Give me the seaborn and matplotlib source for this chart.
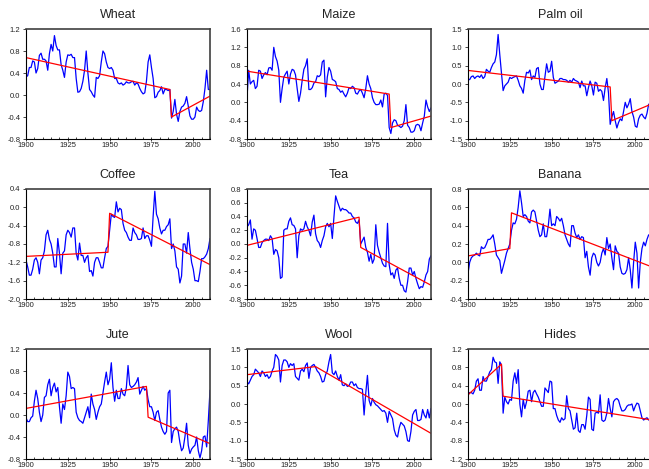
import numpy as np
import matplotlib
matplotlib.use("Agg")
import matplotlib.pyplot as plt
import seaborn as sns
from matplotlib.ticker import MultipleLocator, FormatStrFormatter

years = np.arange(1900, 2011)

wheat = [0.33, 0.35, 0.50, 0.50, 0.62, 0.60, 0.40, 0.48, 0.72, 0.76,
         0.65, 0.65, 0.62, 0.45, 0.75, 0.92, 0.80, 1.08, 0.90, 0.82,
         0.82, 0.55, 0.45, 0.32, 0.60, 0.73, 0.72, 0.74, 0.68, 0.68,
         0.30, 0.05, 0.06, 0.12, 0.25, 0.45, 0.80, 0.40, 0.10, 0.06,
         0.00, -0.04, 0.32, 0.30, 0.35, 0.60, 0.80, 0.75, 0.60, 0.50,
         0.48, 0.50, 0.45, 0.30, 0.30, 0.22, 0.20, 0.22, 0.18, 0.20,
         0.24, 0.22, 0.22, 0.24, 0.25, 0.18, 0.22, 0.20, 0.12, 0.06,
         0.02, 0.04, 0.25, 0.60, 0.73, 0.50, 0.30, -0.05, -0.03, 0.05,
         0.08, 0.15, 0.02, 0.10, 0.10, 0.08, 0.10, -0.42, -0.30, -0.08,
         -0.35, -0.48, -0.30, -0.22, -0.20, -0.15, -0.03, -0.20, -0.38, -0.44,
         -0.44, -0.40, -0.22, -0.28, -0.30, -0.28, -0.12, 0.12, 0.45, 0.10,
         0.10]
maize = [0.10, 0.70, 0.40, 0.45, 0.48, 0.30, 0.35, 0.70, 0.68, 0.52,
         0.60, 0.65, 0.60, 0.75, 0.76, 0.70, 1.20, 1.00, 0.90, 0.70,
         0.00, 0.30, 0.55, 0.62, 0.68, 0.40, 0.62, 0.72, 0.70, 0.60,
         0.30, 0.02, 0.20, 0.48, 0.72, 0.80, 0.95, 0.28, 0.28, 0.32,
         0.42, 0.45, 0.58, 0.56, 0.60, 0.88, 0.92, 0.12, 0.55, 0.76,
         0.68, 0.50, 0.48, 0.45, 0.30, 0.28, 0.22, 0.25, 0.18, 0.12,
         0.20, 0.32, 0.30, 0.35, 0.32, 0.20, 0.18, 0.25, 0.28, 0.20,
         0.10, 0.30, 0.58, 0.40, 0.30, 0.10, 0.00, -0.05, -0.05, -0.04,
         0.05, -0.10, 0.18, 0.20, 0.15, -0.55, -0.68, -0.45, -0.38, -0.40,
         -0.50, -0.52, -0.55, -0.52, -0.40, -0.05, -0.50, -0.55, -0.65, -0.65,
         -0.62, -0.50, -0.48, -0.50, -0.62, -0.45, -0.30, 0.05, -0.10, -0.20,
         -0.12]
palm_oil = [0.12, 0.12, 0.20, 0.22, 0.15, 0.20, 0.22, 0.18, 0.25, 0.15,
            0.20, 0.40, 0.35, 0.32, 0.45, 0.55, 0.60, 0.80, 1.35, 0.80,
            0.30, -0.18, -0.05, 0.00, 0.05, 0.18, 0.15, 0.18, 0.20, 0.22,
            0.10, -0.05, -0.12, -0.25, 0.10, 0.32, 0.30, 0.38, 0.12, 0.22,
            0.18, 0.42, 0.45, 0.00, -0.15, -0.15, 0.20, 0.55, 0.32, 0.35,
            0.62, 0.18, 0.02, 0.05, 0.08, 0.15, 0.15, 0.12, 0.12, 0.10,
            0.05, 0.10, 0.05, 0.15, 0.10, 0.08, 0.05, -0.10, 0.08, -0.05,
            -0.05, -0.32, -0.10, 0.08, -0.05, -0.30, 0.05, 0.02, -0.20, -0.15,
            -0.20, -0.45, -0.10, 0.15, -0.25, -1.10, -0.90, -0.75, -1.00, -1.20,
            -1.05, -0.95, -1.00, -0.75, -0.50, -0.65, -0.55, -0.40, -0.75, -0.90,
            -1.15, -1.18, -0.95, -0.85, -0.82, -0.90, -0.95, -0.80, -0.55, -0.65,
            -0.30]
coffee = [-1.15, -1.30, -1.48, -1.48, -1.35, -1.15, -1.10, -1.20, -1.45, -1.15,
          -1.10, -0.95, -0.60, -0.50, -0.70, -0.80, -1.00, -1.30, -1.30, -0.68,
          -1.00, -1.45, -1.00, -0.95, -0.60, -0.50, -0.55, -0.65, -0.45, -0.45,
          -1.00, -1.15, -0.78, -1.05, -1.05, -1.20, -1.10, -1.05, -1.40, -1.38,
          -1.50, -1.20, -1.10, -1.10, -1.20, -1.32, -1.32, -1.10, -0.90, -0.85,
          -0.50, -0.15, -0.20, -0.22, 0.12, -0.10, -0.02, -0.05, -0.35, -0.50,
          -0.55, -0.65, -0.72, -0.72, -0.45, -0.55, -0.60, -0.70, -0.70, -0.68,
          -0.45, -0.68, -0.62, -0.62, -0.72, -0.85, -0.20, 0.35, -0.15, -0.25,
          -0.45, -0.58, -0.50, -0.50, -0.42, -0.38, -0.25, -0.90, -0.80, -0.95,
          -1.30, -1.35, -1.65, -1.50, -0.80, -0.80, -1.00, -0.55, -0.90, -1.20,
          -1.35, -1.60, -1.60, -1.62, -1.40, -1.12, -1.12, -1.08, -1.02, -0.90,
          -0.68]
tea = [0.25, 0.28, 0.35, 0.07, 0.22, 0.20, 0.08, -0.05, -0.05, 0.02,
       0.05, 0.07, 0.07, 0.05, 0.12, 0.08, -0.15, -0.08, -0.10, -0.20,
       -0.50, -0.48, 0.20, 0.22, 0.22, 0.33, 0.38, 0.28, 0.27, 0.22,
       -0.20, 0.12, 0.22, 0.20, 0.22, 0.33, 0.25, 0.20, 0.12, 0.32,
       0.42, 0.15, 0.05, 0.02, -0.05, 0.05, 0.12, 0.25, 0.30, 0.25,
       0.30, 0.08, 0.40, 0.70, 0.62, 0.55, 0.48, 0.52, 0.50, 0.50,
       0.48, 0.45, 0.45, 0.40, 0.38, 0.32, 0.30, 0.35, 0.00, 0.05,
       0.10, -0.05, -0.12, -0.25, -0.15, -0.28, -0.22, 0.28, -0.02, -0.12,
       -0.20, -0.28, -0.32, -0.33, 0.30, -0.30, -0.45, -0.42, -0.50, -0.38,
       -0.35, -0.50, -0.60, -0.60, -0.68, -0.70, -0.55, -0.35, -0.35, -0.45,
       -0.40, -0.50, -0.58, -0.65, -0.62, -0.63, -0.55, -0.45, -0.40, -0.22,
       -0.17]
banana = [-0.12, 0.00, 0.05, 0.07, 0.08, 0.10, 0.08, 0.07, 0.17, 0.15,
          0.16, 0.20, 0.25, 0.25, 0.27, 0.30, 0.20, 0.08, 0.05, 0.02,
          -0.12, -0.05, 0.02, 0.10, 0.15, 0.20, 0.35, 0.43, 0.42, 0.47,
          0.60, 0.78, 0.65, 0.50, 0.52, 0.50, 0.45, 0.43, 0.55, 0.57,
          0.55, 0.45, 0.35, 0.28, 0.30, 0.42, 0.28, 0.28, 0.40, 0.58,
          0.40, 0.42, 0.40, 0.50, 0.48, 0.45, 0.48, 0.40, 0.30, 0.25,
          0.20, 0.17, 0.40, 0.40, 0.32, 0.27, 0.30, 0.25, 0.28, 0.27,
          0.05, 0.12, -0.05, -0.14, 0.05, 0.10, 0.08, 0.00, -0.04, 0.00,
          0.10, 0.15, 0.08, 0.27, 0.15, 0.20, 0.05, -0.08, 0.18, 0.12,
          0.10, -0.05, -0.12, -0.13, -0.12, -0.08, 0.05, -0.08, -0.28, 0.00,
          0.22, 0.10, -0.28, 0.00, 0.15, 0.22, 0.18, 0.25, 0.30, 0.28,
          0.28]
jute = [-0.05, -0.12, -0.12, -0.05, -0.02, 0.25, 0.45, 0.30, 0.05, -0.12,
        0.00, 0.32, 0.35, 0.55, 0.65, 0.35, 0.50, 0.58, 0.42, 0.50,
        0.15, -0.15, 0.20, 0.10, 0.35, 0.78, 0.70, 0.48, 0.50, 0.48,
        0.05, -0.05, -0.10, -0.12, -0.15, -0.05, 0.05, 0.15, -0.05, 0.38,
        0.20, 0.10, -0.08, 0.05, 0.15, 0.20, 0.40, 0.60, 0.78, 0.55,
        0.65, 0.95, 0.50, 0.25, 0.45, 0.30, 0.30, 0.48, 0.38, 0.35,
        0.50, 0.90, 0.55, 0.50, 0.52, 0.55, 0.60, 0.68, 0.38, 0.45,
        0.52, 0.45, 0.48, 0.28, 0.15, 0.15, 0.05, -0.10, 0.05, 0.08,
        -0.08, -0.22, -0.30, -0.35, -0.30, 0.40, 0.45, -0.50, -0.30, -0.25,
        -0.22, -0.30, -0.50, -0.65, -0.60, -0.40, -0.15, -0.55, -0.70, -0.62,
        -0.58, -0.55, -0.40, -0.65, -0.78, -0.65, -0.40, -0.38, -0.58, -0.10,
        0.45]
wool = [0.60, 0.55, 0.65, 0.75, 0.80, 0.95, 0.90, 0.85, 0.75, 0.90,
        0.85, 0.75, 0.80, 0.70, 0.75, 0.90, 1.00, 1.35, 1.30, 1.20,
        0.60, 1.05, 1.20, 1.20, 1.15, 1.00, 1.10, 1.05, 1.10, 0.75,
        0.70, 0.65, 0.90, 0.95, 0.88, 1.05, 1.12, 0.70, 1.00, 1.05,
        1.08, 1.00, 0.90, 0.85, 0.75, 0.60, 0.62, 0.80, 0.90, 1.15,
        1.35, 0.85, 0.80, 0.90, 0.75, 0.65, 0.80, 0.52, 0.50, 0.55,
        0.48, 0.50, 0.60, 0.60, 0.50, 0.55, 0.45, 0.42, 0.42, 0.40,
        -0.30, 0.30, 0.78, 0.10, -0.05, 0.15, 0.05, -0.02, -0.05, -0.10,
        -0.15, -0.20, -0.18, -0.25, -0.50, -0.20, -0.30, -0.40, -0.70, -0.85,
        -0.90, -0.65, -0.50, -0.55, -0.60, -0.75, -1.00, -1.02, -0.75, -0.30,
        -0.20, -0.15, -0.45, -0.45, -0.42, -0.15, -0.30, -0.38, -0.15, -0.38,
        -0.12]
hides = [0.20, 0.25, 0.25, 0.22, 0.30, 0.50, 0.55, 0.30, 0.30, 0.60,
         0.50, 0.50, 0.60, 0.70, 0.75, 1.02, 0.92, 0.90, 0.45, 0.92,
         0.85, -0.20, 0.15, 0.05, 0.00, 0.10, 0.08, 0.50, 0.68, 0.45,
         0.75, 0.00, -0.28, 0.10, -0.10, 0.05, 0.28, 0.30, 0.05, 0.25,
         0.30, 0.22, 0.15, 0.05, -0.05, -0.05, 0.35, 0.30, 0.25, 0.50,
         0.48, -0.10, -0.10, -0.25, -0.35, -0.40, -0.30, -0.35, -0.32, 0.18,
         -0.10, -0.15, -0.35, -0.55, -0.52, -0.20, -0.58, -0.62, -0.45, -0.45,
         -0.55, -0.25, 0.15, 0.10, -0.55, -0.58, -0.20, -0.18, -0.20, 0.20,
         -0.35, -0.38, -0.35, -0.20, 0.12, -0.10, -0.28, 0.05, 0.10, 0.12,
         0.08, -0.05, -0.15, -0.15, -0.12, -0.05, -0.02, -0.02, 0.00, -0.15,
         -0.05, 0.02, 0.00, -0.15, -0.30, -0.35, -0.32, -0.30, -0.35, -0.30,
         -0.45]

# segmented trends: break points (year, fitted value)
wheat_trend_x = [1900, 1986, 1987, 2010]
wheat_trend_y = [0.68, 0.10, -0.40, -0.02]
maize_trend_x = [1900, 1985, 1986, 2010]
maize_trend_y = [0.68, 0.18, -0.55, -0.30]
palm_trend_x = [1900, 1985, 1986, 2010]
palm_trend_y = [0.37, -0.08, -1.00, -0.54]
coffee_trend_x = [1900, 1949, 1950, 2010]
coffee_trend_y = [-1.07, -0.98, -0.13, -1.25]
tea_trend_x = [1900, 1967, 1968, 2010]
tea_trend_y = [-0.02, 0.39, -0.05, -0.60]
banana_trend_x = [1900, 1925, 1926, 2010]
banana_trend_y = [0.07, 0.15, 0.54, -0.05]
jute_trend_x = [1900, 1972, 1973, 2010]
jute_trend_y = [0.12, 0.52, -0.04, -0.52]
wool_trend_x = [1900, 1941, 2010]
wool_trend_y = [0.80, 1.02, -0.80]
hides_trend_x = [1900, 1920, 1921, 2010]
hides_trend_y = [0.20, 0.87, 0.17, -0.35]

titles = ["Wheat", "Maize", "Palm oil", "Coffee", "Tea", "Banana", "Jute", "Wool", "Hides"]
series = [wheat, maize, palm_oil, coffee, tea, banana, jute, wool, hides]
trends = [(wheat_trend_x, wheat_trend_y), (maize_trend_x, maize_trend_y),
          (palm_trend_x, palm_trend_y), (coffee_trend_x, coffee_trend_y),
          (tea_trend_x, tea_trend_y), (banana_trend_x, banana_trend_y),
          (jute_trend_x, jute_trend_y), (wool_trend_x, wool_trend_y),
          (hides_trend_x, hides_trend_y)]
# y-axis range and tick step per panel
y_ranges = [(-0.8, 1.2, 0.4), (-0.8, 1.6, 0.4), (-1.5, 1.5, 0.5),
            (-2.0, 0.4, 0.4), (-0.8, 0.8, 0.2), (-0.4, 0.8, 0.2),
            (-0.8, 1.2, 0.4), (-1.5, 1.5, 0.5), (-1.2, 1.2, 0.4)]

# --- plotting ---
sns.set_style("ticks")
plt.rcParams['font.family'] = ['Liberation Sans', 'DejaVu Sans']

fig = plt.figure(figsize=(6.49, 4.69), dpi=100)
col_left = [26, 247, 468]
row_top = [29, 189, 349]
ax_w, ax_h = 184, 110

for i, name in enumerate(titles):
    r, c = divmod(i, 3)
    ax = fig.add_axes([col_left[c] / 649, 1 - (row_top[r] + ax_h) / 469,
                       ax_w / 649, ax_h / 469])
    sns.lineplot(x=years, y=series[i], ax=ax, color="#0000ff", linewidth=0.9)
    sns.lineplot(x=trends[i][0], y=trends[i][1], ax=ax, color="#ff0000", linewidth=0.9)

    lo, hi, step = y_ranges[i]
    ax.set_ylim(lo, hi)
    ax.set_xlim(1900, 2010)
    ax.yaxis.set_major_locator(MultipleLocator(step))
    ax.yaxis.set_major_formatter(FormatStrFormatter('%.1f'))
    ax.xaxis.set_major_locator(MultipleLocator(25))
    ax.xaxis.set_minor_locator(MultipleLocator(5))
    ax.tick_params(axis='y', direction='out', length=2.5, width=0.6, labelsize=5.5,
                   pad=1.5, labelcolor='#222222')
    ax.tick_params(axis='x', which='major', direction='inout', length=3, width=0.6,
                   labelsize=5.5, pad=0.5, labelcolor='#222222')
    ax.tick_params(axis='x', which='minor', direction='in', length=1.5, width=0.6)
    ax.set_xlabel("")
    ax.set_ylabel("")
    ax.set_title(name, fontsize=9, pad=8, color='#222222')
    for side in ['left', 'bottom']:
        ax.spines[side].set_color('black')
        ax.spines[side].set_linewidth(0.8)
    for side in ['top', 'right']:
        ax.spines[side].set_visible(True)
        ax.spines[side].set_color('#404040')
        ax.spines[side].set_linewidth(1.2)

fig.savefig("out.png", dpi=100)
